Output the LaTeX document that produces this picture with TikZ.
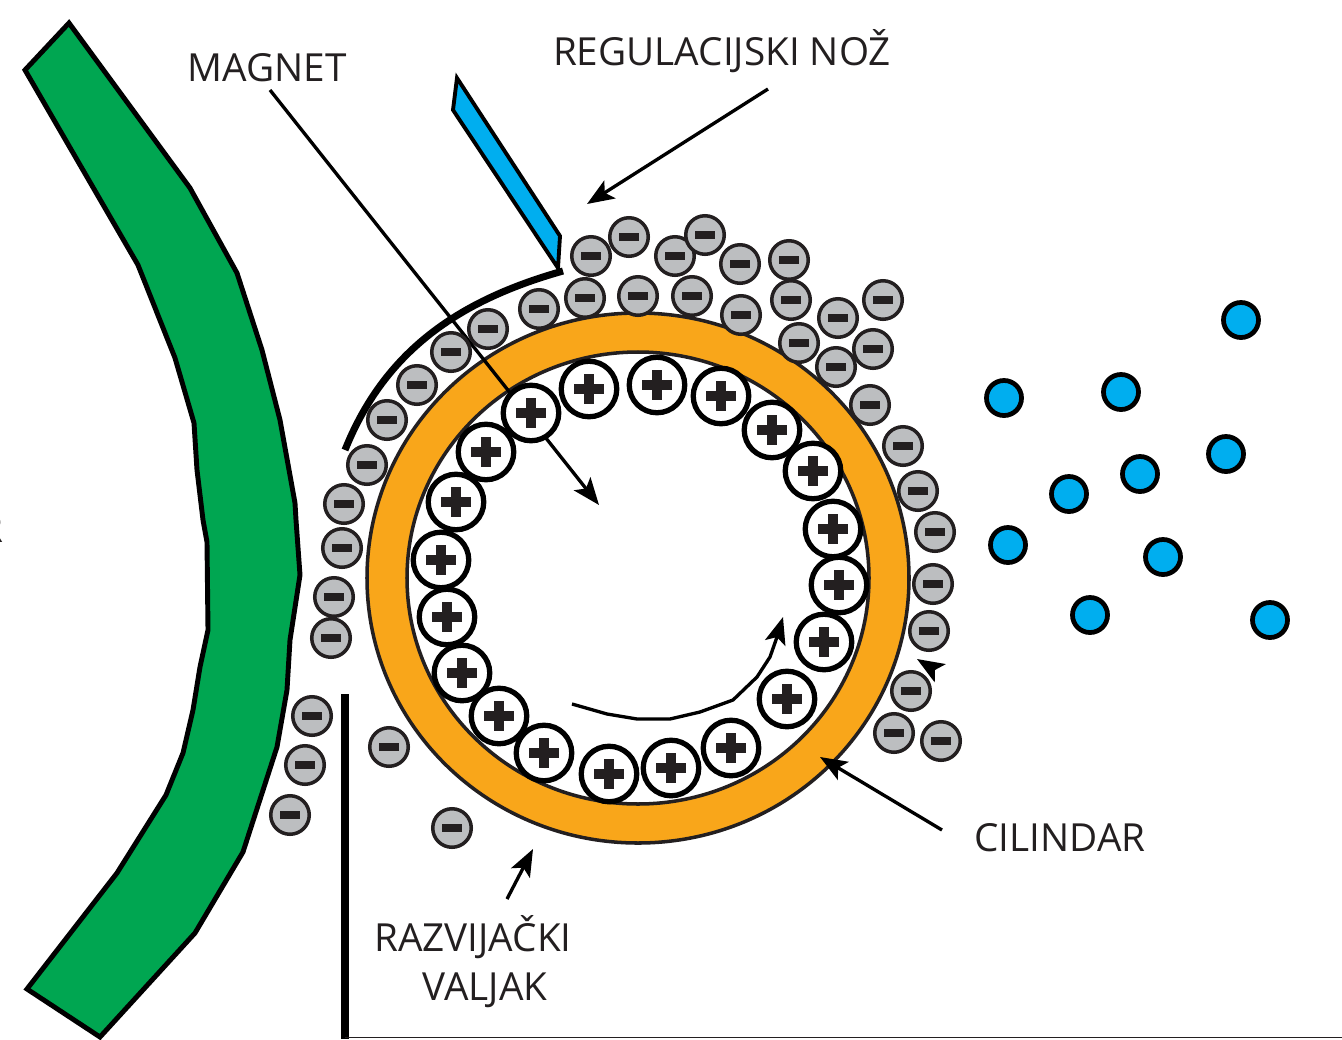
\documentclass[tikz,border=0pt]{standalone}
\usepackage{fontspec}
\setmainfont{Open Sans}
\usetikzlibrary{calc,positioning,arrows.meta}
\definecolor{ink}{HTML}{231F20}
\definecolor{zelena}{HTML}{00A651}
\definecolor{narancasta}{HTML}{F9A61A}
\definecolor{plava}{HTML}{00AEEF}
\definecolor{siva}{HTML}{BCBEC0}
\begin{document}
\begin{tikzpicture}[x=0.01cm,y=-0.01cm]
     \useasboundingbox (0,0) rectangle (1342,1039);
     \tikzstyle{label}=[text=ink,font=\fontsize{11}{13}\selectfont,inner sep=0pt]
     \tikzstyle{leader}=[draw=black,line width=0.95pt,line join=round,-{Stealth[length=0.27cm,width=0.21cm,inset=0.06cm]}]
     \tikzstyle{minus}=[circle,draw=ink,line width=1pt,fill=siva,minimum size=0.385cm,inner sep=0pt,
        path picture={\fill[ink]($(path picture bounding box.center)+(-10,-4)$)rectangle++(20,8);}]
     \tikzstyle{plus}=[circle,draw=black,line width=1.5pt,fill=white,minimum size=0.555cm,inner sep=0pt,
        path picture={\fill[ink]($(path picture bounding box.center)+(-15,-5)$)rectangle++(30,10);
           \fill[ink]($(path picture bounding box.center)+(-5,-15)$)rectangle++(10,30);}]
     \tikzstyle{toner}=[circle,draw=black,line width=1.35pt,fill=plava,minimum size=0.35cm,inner sep=0pt]

     % fotoreceptor
     \fill[zelena,draw=black,line width=1.4pt,line join=miter](25,70)--(69,23)--(190,188)--(237,273)--(262,350)--(280,420)--(295,503)--(296,520)--(300,575)--(290,640)--(287,690)--(277,747)--(243,852)--(195,933)--(100,1037)--(27,989)--(117,873)--(166,795)--(183,753)--(193,710)--(200,667)--(208,630)--(207,542)--(203,520)--(197,470)--(194,423)--(175,358)--(138,265)--cycle;

     % zid i dno
     \draw[black,line width=2.3pt](345,694)--(345,1039);
     \draw[ink,line width=0.5pt](345,1037.5)--(1342,1037.5);

     % noz
     \fill[plava,draw=black,line width=1.1pt](457,78)--(453,110)--(558,268)--(560,236)--cycle;
     \draw[black,line width=2pt](345,450)..controls(385,350)and(460,300)..(563,271);

     % cilindar
     \node at (638,578)[circle,inner sep=0pt,minimum size=0cm](center){};
     \fill[narancasta,draw=ink,line width=1pt,even odd rule](center)ellipse[x radius=271,y radius=265](center)ellipse[x radius=231,y radius=226];

     % tekst
     \node at (267,68)[label](magnet){MAGNET};
     \node at (722,51)[label](noz){REGULACIJSKI NOŽ};
     \node at (1060,838)[label](cilindar){CILINDAR};
     \node at (473,937)[label](razvijacki){RAZVIJAČKI};
     \node at ($(razvijacki)+(12,53)$)[label](valjak){VALJAK};
     \node at (4,529)[label,anchor=east](odsjecak){R};

     % strelice
     \coordinate (magnetend) at (599,505);
     \coordinate (magnetstart) at (270,90);
     \coordinate (nozstart) at (768,89);
     \coordinate (nozend) at (587,204);
     \coordinate (cilstart) at (942,830);
     \coordinate (cilend) at (820,757);
     \coordinate (razstart) at (507,899);
     \coordinate (razend) at (533,849);
     \coordinate (rotstart) at (572,704);
     \coordinate (rotend) at (783,617);
     \coordinate (vrhstart) at (935,670);
     \coordinate (vrhend) at (917,659);
     \path[leader](magnetstart)--(magnetend);
     \path[leader](nozstart)--(nozend);
     \path[leader](cilstart)--(cilend);
     \path[leader](razstart)--(razend);
     \path[leader](rotstart)--(607,714)--(637,719)--(670,719)--(700,712)--(733,700)--(757,677)--(770,657)--(777,637)--(rotend);
     \path[leader](vrhstart)--(vrhend);

     % pozitivni naboji
     \node at (486,452)[plus](p1){};
     \node at (456,502)[plus](p2){};
     \node at (441,560)[plus](p3){};
     \node at (447,617)[plus](p4){};
     \node at (462,673)[plus](p5){};
     \node at (499,716)[plus](p6){};
     \node at (544,753)[plus](p7){};
     \node at (609,774)[plus](p8){};
     \node at (671,768)[plus](p9){};
     \node at (731,748)[plus](p10){};
     \node at (787,699)[plus](p11){};
     \node at (824,642)[plus](p12){};
     \node at (839,585)[plus](p13){};
     \node at (833,529)[plus](p14){};
     \node at (813,471)[plus](p15){};
     \node at (772,430)[plus](p16){};
     \node at (721,396)[plus](p17){};
     \node at (657,385)[plus](p18){};
     \node at (589,389)[plus](p19){};
     \node at (531,413)[plus](p20){};

     % negativni naboji
     \node at (591,256)[minus](m1){};
     \node at (629,237)[minus](m2){};
     \node at (675,256)[minus](m3){};
     \node at (705,235)[minus](m4){};
     \node at (740,264)[minus](m5){};
     \node at (789,260)[minus](m6){};
     \node at (883,300)[minus](m7){};
     \node at (791,300)[minus](m8){};
     \node at (838,318)[minus](m9){};
     \node at (873,349)[minus](m10){};
     \node at (799,343)[minus](m11){};
     \node at (836,367)[minus](m12){};
     \node at (870,405)[minus](m13){};
     \node at (903,446)[minus](m14){};
     \node at (918,491)[minus](m15){};
     \node at (935,532)[minus](m16){};
     \node at (933,584)[minus](m17){};
     \node at (929,631)[minus](m18){};
     \node at (911,691)[minus](m19){};
     \node at (894,733)[minus](m20){};
     \node at (941,741)[minus](m21){};
     \node at (585,298)[minus](m22){};
     \node at (638,296)[minus](m23){};
     \node at (692,296)[minus](m24){};
     \node at (741,315)[minus](m25){};
     \node at (539,309)[minus](m26){};
     \node at (488,329)[minus](m27){};
     \node at (451,352)[minus](m28){};
     \node at (417,385)[minus](m29){};
     \node at (387,420)[minus](m30){};
     \node at (367,465)[minus](m31){};
     \node at (344,504)[minus](m32){};
     \node at (342,548)[minus](m33){};
     \node at (334,597)[minus](m34){};
     \node at (331,638)[minus](m35){};
     \node at (312,716)[minus](m36){};
     \node at (305,765)[minus](m37){};
     \node at (290,815)[minus](m38){};
     \node at (389,747)[minus](m39){};
     \node at (452,828)[minus](m40){};

     % toner
     \node at (1241,320)[toner](t1){};
     \node at (1004,398)[toner](t2){};
     \node at (1121,392)[toner](t3){};
     \node at (1226,454)[toner](t4){};
     \node at (1140,474)[toner](t5){};
     \node at (1069,494)[toner](t6){};
     \node at (1008,545)[toner](t7){};
     \node at (1163,557)[toner](t8){};
     \node at (1090,615)[toner](t9){};
     \node at (1270,620)[toner](t10){};
\end{tikzpicture}
\end{document}
